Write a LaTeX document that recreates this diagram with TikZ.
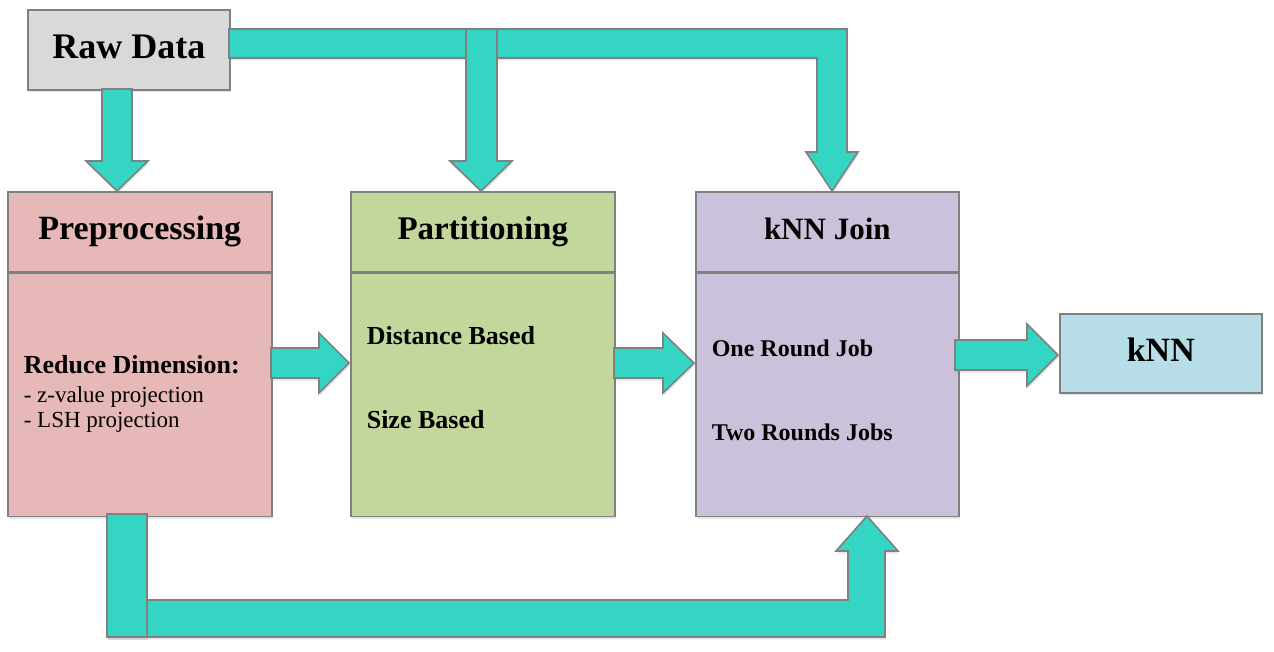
\documentclass[tikz,border=0pt]{standalone}
\usepackage{fontspec}
\setmainfont{Liberation Serif}
\usetikzlibrary{positioning,shadows}

\definecolor{bandfill}{HTML}{35D5C4}
\definecolor{edgegray}{HTML}{808080}
\definecolor{rawfill}{HTML}{D9D9D9}
\definecolor{prefill}{HTML}{E6B9B8}
\definecolor{partfill}{HTML}{C3D69B}
\definecolor{joinfill}{HTML}{CCC1DA}
\definecolor{knnfill}{HTML}{B7DEE8}

\newcommand{\fsz}[1]{\fontsize{#1}{#1}\selectfont}

\begin{document}
\begin{tikzpicture}[x=1pt, y=-1pt, line width=1.6pt,
    box/.style={draw=edgegray, inner sep=0pt, anchor=north west,
        drop shadow={shadow xshift=1pt, shadow yshift=-2.5pt, opacity=0.2}},
    title/.style={font=\bfseries\fsz{33}, text height=22pt, text depth=7pt},
    item/.style={anchor=base west, inner sep=0pt, font=\bfseries\fsz{26}},
    band/.style={fill=bandfill, draw=edgegray, line join=miter,
        drop shadow={shadow xshift=1pt, shadow yshift=-2.5pt, opacity=0.2}}]

\useasboundingbox (0,0) rectangle (1274,652);

\node[box, fill=rawfill, minimum width=202, minimum height=80,
    font=\bfseries\fsz{36}, text height=25pt, text depth=8pt] (raw) at (27,9) {Raw Data};

\node[box, title, font=\bfseries\fsz{34}, fill=prefill, minimum width=264, minimum height=80] (pre) at (7,191) {Preprocessing};
\node[box, fill=prefill, minimum width=264, minimum height=243, below=0pt of pre] (prebody) {};
\node[box, title, fill=partfill, minimum width=264, minimum height=80] (part) at (350,191) {Partitioning};
\node[box, fill=partfill, minimum width=264, minimum height=243, below=0pt of part] (partbody) {};
\node[box, title, font=\bfseries\fsz{31}, fill=joinfill, minimum width=263, minimum height=80] (join) at (695,191) {kNN Join};
\node[box, fill=joinfill, minimum width=263, minimum height=243, below=0pt of join] (joinbody) {};

\node[box, fill=knnfill, minimum width=202, minimum height=79,
    font=\bfseries\fsz{34}, text height=23pt, text depth=7pt] (knn) at (1059,313) {kNN};

\node[item] (reduce) at (23,373) {Reduce Dimension:};
\node[item, font=\fsz{23}] (zvalue) at (23,402) {- z-value projection};
\node[item, font=\fsz{23}] (lsh) at (23,427) {- LSH projection};
\node[item] (distance) at (366,344) {Distance Based};
\node[item] (size) at (366,428) {Size Based};
\node[item, font=\bfseries\fsz{24}] (oneround) at (711,356) {One Round Job};
\node[item, font=\bfseries\fsz{24}] (tworound) at (711,440) {Two Rounds Jobs};

% raw data to partitioning and join
\draw[band] (229,29) -- (847,29) -- (847,152) -- (858,152) -- (832,191) -- (806,152)
    -- (817,152) -- (817,58) -- (229,58) -- cycle;
\draw[band] (466,29) -- (466,161) -- (450,161) -- (481,191) -- (512,161) -- (497,161)
    -- (497,29) -- cycle;
\draw[band] (102,89) -- (102,161) -- (86,161) -- (117,191) -- (148,161) -- (132,161)
    -- (132,89) -- cycle;

% stage to stage
\draw[band] (271,348) -- (319,348) -- (319,333) -- (349,363) -- (319,393) -- (319,378)
    -- (271,378) -- cycle;
\draw[band] (614,348) -- (663,348) -- (663,333) -- (694,363) -- (663,393) -- (663,378)
    -- (614,378) -- cycle;
\draw[band] (955,340) -- (1027,340) -- (1027,324) -- (1058,355) -- (1027,386) -- (1027,370)
    -- (955,370) -- cycle;

% preprocessing to join
\draw[band] (107,600) -- (848,600) -- (848,551) -- (836,551) -- (867,516) -- (898,551)
    -- (885,551) -- (885,637) -- (107,637) -- cycle;
\draw[band] (107,514) rectangle (147,637);

\end{tikzpicture}
\end{document}
